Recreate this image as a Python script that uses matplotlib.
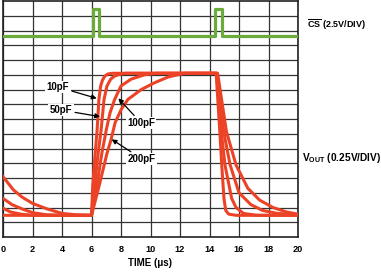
import matplotlib
matplotlib.use("Agg")
import matplotlib.pyplot as plt

plt.rcParams['font.family'] = ['Liberation Sans', 'DejaVu Sans']
plt.rcParams['mathtext.fontset'] = 'custom'
plt.rcParams['mathtext.rm'] = 'Liberation Sans'
plt.rcParams['mathtext.bf'] = 'Liberation Sans:bold'

# time axis in microseconds, traces in scope divisions (0..16)
x_ticks = [0, 2, 4, 6, 8, 10, 12, 14, 16, 18, 20]

# CS trace (2.5V/DIV)
t_cs = [0, 6.07, 6.07, 6.51, 6.51, 14.39, 14.39, 14.83, 14.83, 20]
v_cs = [13.64, 13.64, 15.46, 15.46, 13.64, 13.64, 15.46, 15.46, 13.64, 13.64]

# VOUT traces (0.25V/DIV) for each load capacitance
t_10pf = [0, 6.0, 6.08, 6.25, 6.38, 6.5, 6.62, 6.75, 6.9, 7.1, 7.4,
          14.45, 14.7, 14.83, 14.98, 15.1, 15.3, 15.8, 20]
v_10pf = [1.47, 1.47, 3.4, 5.67, 7.25, 9.3, 10.24, 10.65, 10.9, 11.05, 11.1,
          11.1, 7.14, 4.88, 2.62, 1.8, 1.55, 1.47, 1.47]

t_50pf = [0, 0.5, 1.2, 2.0, 6.0, 6.2, 6.45, 6.65, 6.85, 7.05, 7.3, 7.55, 7.8, 8.3,
          14.5, 14.8, 15.05, 15.5, 15.8, 16.3, 17.2, 20]
v_50pf = [1.95, 1.7, 1.55, 1.47, 1.47, 3.4, 5.67, 7.25, 9.33, 10.24, 10.7, 10.9, 11.0, 11.1,
          11.1, 7.14, 4.88, 2.62, 2.0, 1.6, 1.47, 1.47]

t_100pf = [0, 0.6, 1.3, 2.0, 3.0, 4.0, 6.0, 6.35, 6.7, 7.0, 7.25, 7.57, 8.0, 8.68, 9.6, 10.4,
           14.5, 14.96, 15.4, 16.0, 16.8, 17.6, 18.6, 20]
v_100pf = [2.62, 2.2, 1.9, 1.65, 1.5, 1.47, 1.47, 3.4, 5.67, 7.25, 8.4, 9.33, 10.24, 10.7, 11.0, 11.1,
           11.1, 7.14, 4.88, 3.0, 2.2, 1.8, 1.6, 1.5]

t_200pf = [0, 0.7, 1.3, 2.0, 3.0, 4.0, 5.0, 6.0, 6.5, 7.05, 7.32, 7.6, 8.02, 8.47, 9.38, 10.28, 11.2, 12.3,
           14.55, 15.15, 15.8, 16.6, 17.4, 18.3, 19.2, 20]
v_200pf = [4.09, 3.2, 2.7, 2.28, 1.9, 1.6, 1.5, 1.47, 3.4, 5.67, 6.58, 7.75, 8.66, 9.33, 10.0, 10.46, 10.85, 11.1,
           11.1, 7.14, 4.88, 3.3, 2.5, 2.0, 1.7, 1.55]

# label text, label position, arrow tip
cap_labels = ['10pF', '50pF', '100pF', '200pF']
label_xy = [(3.73, 10.17), (3.93, 8.61), (9.36, 7.73), (9.42, 5.29)]
tip_xy = [(6.35, 9.4), (6.58, 8.16), (7.82, 9.4), (7.37, 6.62)]

red = '#ec4326'
green = '#6aab3c'

fig = plt.figure(figsize=(3.81, 2.72), dpi=100)
ax = fig.add_axes([3 / 381, 35 / 272, 295 / 381, 236 / 272])

for t, v in [(t_10pf, v_10pf), (t_50pf, v_50pf), (t_100pf, v_100pf), (t_200pf, v_200pf)]:
    ax.plot(t, v, color=red, lw=2.2, solid_joinstyle='round', zorder=3)
ax.plot(t_cs, v_cs, color=green, lw=2.3, zorder=3)

for lab, xy, tip in zip(cap_labels, label_xy, tip_xy):
    ax.annotate(lab, xy=tip, xytext=xy, ha='center', va='center',
                fontsize=7, fontweight='bold', zorder=5,
                bbox=dict(boxstyle='square,pad=0.15', fc='white', ec='none'),
                arrowprops=dict(arrowstyle='-|>', color='black', lw=0.9,
                                mutation_scale=7, shrinkA=1, shrinkB=0))

ax.set_xlim(0, 20)
ax.set_ylim(0, 16)
ax.set_xticks(x_ticks)
ax.set_xticklabels([str(x) for x in x_ticks], fontsize=6.6, fontweight='bold')
ax.set_yticks(range(1, 16))
ax.set_yticklabels([])
ax.tick_params(length=0, pad=5.5)
ax.grid(True, color='#333333', lw=0.9, zorder=1)
ax.set_axisbelow(True)
for s in ax.spines.values():
    s.set_color('#222222')
    s.set_linewidth(1.2)
ax.set_xlabel('TIME (μs)', fontsize=7, fontweight='bold', labelpad=3)

fig.text(307 / 381, 1 - 25 / 272, r'$\overline{\mathbf{CS}}$ (2.5V/DIV)',
         fontsize=6.5, fontweight='bold', va='center', ha='left')
fig.text(302 / 381, 1 - 158 / 272, r'$\mathbf{V_{OUT}}$ (0.25V/DIV)',
         fontsize=7.3, fontweight='bold', va='center', ha='left')

fig.savefig('out.png', dpi=100)
